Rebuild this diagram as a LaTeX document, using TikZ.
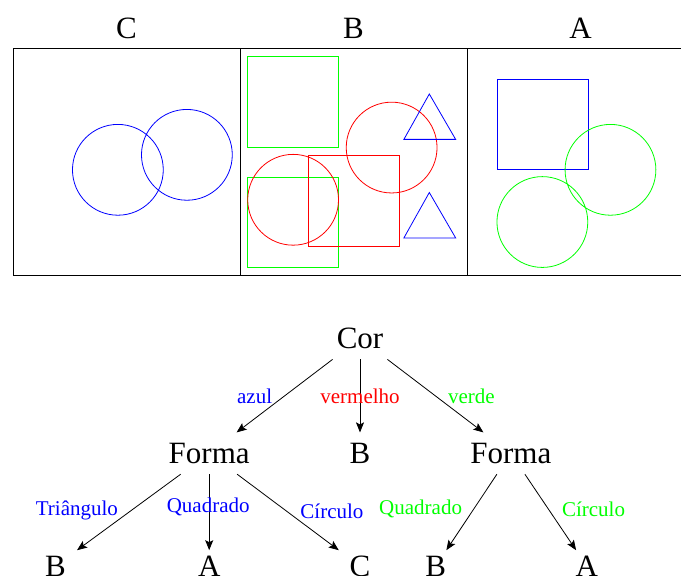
\documentclass[tikz,border=0pt]{standalone}
\usepackage{fontspec}
\setmainfont{Liberation Serif}
\usetikzlibrary{arrows.meta,positioning}
\tikzset{
    %Define standard arrow tip
    >={Stealth[length=10pt,width=8pt,inset=2pt]},
    %Define style for tree nodes
    decision/.style={
        rectangle,
        inner sep=10pt,
        minimum width=104pt,
        text height=21pt,
        text depth=0pt,
        font=\fontsize{31}{36}\selectfont
    },
    leaf/.style={
        decision,
        inner ysep=5pt
    },
    % Define style for branch labels
    branch/.style={
        midway,
        inner sep=1pt,
        font=\fontsize{21}{25}\selectfont
    },
    % shapes in the data panels
    shp/.style={line width=0.8pt}
}
\begin{document}
\begin{tikzpicture}[x=1pt,y=1pt,thick,node distance=73pt and 46pt]
		\useasboundingbox (0,0) rectangle (681,576);
		% data panels
		\begin{scope}[shift={(13,300.4)},x=45.4pt,y=45.4pt]
		\draw[line width=0.8pt] (0,0) rectangle (15,5) (5,0) -- (5,5) (10,0) -- (10,5);
		\node[decision,anchor=base](lblC) at (2.5,5.23){C};
		\node[decision,anchor=base](lblB) at (7.5,5.23){B};
		\node[decision,anchor=base](lblA) at (12.5,5.23){A};
		% C
		\draw[shp,blue] (2.31,2.33) circle[radius=1] (3.83,2.66) circle[radius=1];
		% B
		\draw[shp,green] (5.17,2.83) rectangle (7.17,4.83) (5.17,0.17) rectangle (7.17,2.17);
		\draw[shp,red] (6.17,1.67) circle[radius=1] (8.34,2.82) circle[radius=1];
		\draw[shp,red] (6.5,0.65) rectangle (8.5,2.65);
		\draw[shp,blue] (9.17,4.0) -- (9.75,3.0) -- (8.61,3.0) -- cycle;
		\draw[shp,blue] (9.17,1.83) -- (9.75,0.83) -- (8.61,0.83) -- cycle;
		% A
		\draw[shp,blue] (10.66,2.33) rectangle (12.68,4.33);
		\draw[shp,green] (13.16,2.33) circle[radius=1] (11.66,1.18) circle[radius=1];
		\end{scope}
		% tree
		\node[decision](cor) at (360,237.5){Cor};
		\node[decision, below=of cor](b){B};
		\node[decision, left=of b](f1){Forma};
		\node[decision, right=of b](f2){Forma};
		\node[leaf, below=76pt of f1](a1){A};
		\node[leaf, left=of a1, xshift=-3pt](b1){B};
		\node[leaf, below=76pt of b](c1){C};
		\node[leaf, below=76pt of f2, xshift=-75pt](b2){B};
		\node[leaf, below=76pt of f2, xshift=76pt](a2){A};
		\path[->]
		(cor) edge node[branch,text=blue,xshift=-30pt]{azul} (f1)
		      edge node[branch,text=red]{vermelho} (b)
		      edge node[branch,text=green,xshift=36pt]{verde} (f2)
		(f1) edge node[branch,text=blue,xshift=-52pt,yshift=2pt]{Triângulo} (b1)
		     edge node[branch,text=blue,xshift=-1pt,yshift=5pt]{Quadrado} (a1)
		     edge node[branch,text=blue,xshift=44pt,yshift=1pt]{Círculo} (c1)
		(f2) edge node[branch,text=green,xshift=-51pt,yshift=3pt]{Quadrado} (b2)
		     edge node[branch,text=green,xshift=43pt,yshift=3pt]{Círculo} (a2);
\end{tikzpicture}
\end{document}
